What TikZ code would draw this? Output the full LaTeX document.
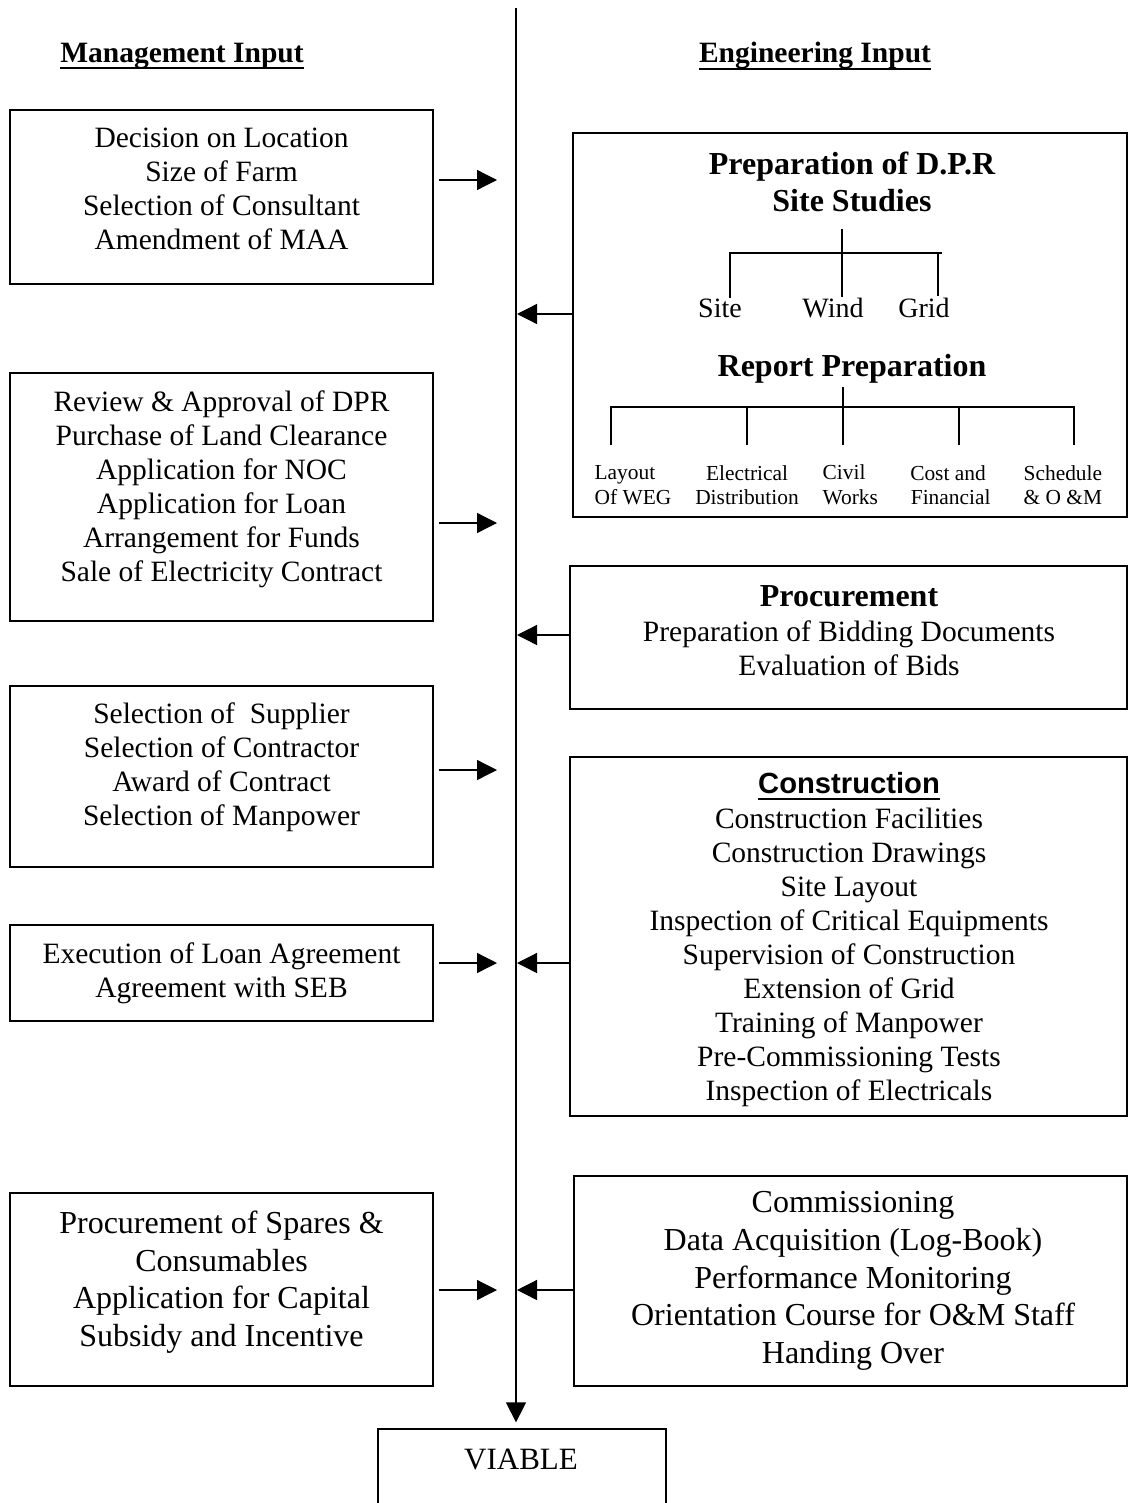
\documentclass[tikz,border=0pt]{standalone}
\usepackage{fontspec}
\setmainfont{Liberation Serif}
\newfontfamily\arialfont{Liberation Sans}
\usetikzlibrary{arrows.meta}
\newcommand{\ulbar}[1]{\setbox0\hbox{#1}\rlap{\rule[-3.5pt]{\wd0}{1.1pt}}\box0}

\begin{document}
\begin{tikzpicture}[x=0.5pt,y=-0.5pt,line width=0.65pt]
    \tikzstyle{every node}=[inner sep=0pt,align=center];
    \tikzstyle{box}=[draw,rectangle,line width=0.65pt];
    \tikzstyle{body}=[font=\fontsize{14.75}{17}\selectfont];
    \tikzstyle{big}=[font=\fontsize{16}{18.8}\selectfont];
    \tikzstyle{title}=[font=\fontsize{14.75}{17}\selectfont\bfseries];
    \tikzstyle{head}=[font=\fontsize{16}{18.5}\selectfont\bfseries];
    \tikzstyle{leaf}=[font=\fontsize{14}{16}\selectfont];
    \tikzstyle{small}=[font=\fontsize{10.7}{12.3}\selectfont];
    \tikzstyle{arr}=[-{Triangle[length=10pt,width=10pt]}];

    \useasboundingbox (0,0) rectangle (1129,1503);

    \node at (182,56) (mgmt) [title] {\ulbar{Management Input}};
    \node at (815,56) (engg) [title] {\ulbar{Engineering Input}};

    % management side
    \node at (221.5,197) (m1) [box,minimum width=211.5pt,minimum height=87pt] {};
    \node at (221.5,189) (m1t) [body] {Decision on Location\\Size of Farm\\Selection of Consultant\\Amendment of MAA};
    \node at (221.5,497) (m2) [box,minimum width=211.5pt,minimum height=124pt] {};
    \node at (221.5,489) (m2t) [body] {Review \& Approval of DPR\\Purchase of Land Clearance\\Application for NOC\\Application for Loan\\Arrangement for Funds\\Sale of Electricity Contract};
    \node at (221.5,776.5) (m3) [box,minimum width=211.5pt,minimum height=90.5pt] {};
    \node at (221.5,767) (m3t) [body] {Selection of\ \ Supplier\\Selection of Contractor\\Award of Contract\\Selection of Manpower};
    \node at (221.5,973) (m4) [box,minimum width=211.5pt,minimum height=48pt] {};
    \node at (221.5,973) (m4t) [body] {Execution of Loan Agreement\\Agreement with SEB};
    \node at (221.5,1289.5) (m5) [box,minimum width=211.5pt,minimum height=96.5pt] {};
    \node at (221.5,1282) (m5t) [big] {Procurement of Spares \&\\Consumables\\Application for Capital\\Subsidy and Incentive};

    % engineering side
    \node at (850,325) (e1) [box,minimum width=277pt,minimum height=192pt] {};
    \node at (852,182) (dpr) [head] {Preparation of D.P.R\\Site Studies};
    \node at (720,308) (site) [leaf] {Site};
    \node at (833,308) (wind) [leaf] {Wind};
    \node at (924,308) (grid) [leaf] {Grid};
    \coordinate (sstem) at (842,229);
    \coordinate (sbar) at (842,253);
    \draw (sstem) -- (842,297);
    \draw (730,298) |- (942,253);
    \draw (938,253) -- (938,296);
    \node at (852,369) (rep) [head] {Report Preparation};
    \coordinate (rstem) at (843,387);
    \draw (rstem) -- (843,445);
    \draw (611,445) |- (1074,407) -- (1074,445);
    \draw (747,407) -- (747,445);
    \draw (959,407) -- (959,445);
    \node at (594,485) (lay) [small,anchor=west,align=left] {Layout\\Of WEG};
    \node at (747,485) (ele) [small] {Electrical\\Distribution};
    \node at (822,485) (civ) [small,anchor=west,align=left] {Civil\\Works};
    \node at (948,485) (cos) [small] {Cost and\\\ Financial};
    \node at (1023,485) (sch) [small,anchor=west,align=left] {Schedule\\\& O \&M};

    \node at (848.5,637.5) (e2) [box,minimum width=278.5pt,minimum height=71.5pt] {};
    \node at (849,596) (proc) [head] {Procurement};
    \node at (849,648) (proct) [body] {Preparation of Bidding Documents\\Evaluation of Bids};

    \node at (848.5,936.5) (e3) [box,minimum width=278.5pt,minimum height=179.5pt] {};
    \node at (849,786) (cons) [font=\fontsize{14.6}{17}\selectfont\arialfont\bfseries] {\ulbar{Construction}};
    \node at (849,957) (const) [body] {Construction Facilities\\Construction Drawings\\Site Layout\\Inspection of Critical Equipments\\Supervision of Construction\\Extension of Grid\\Training of Manpower\\Pre-Commissioning Tests\\Inspection of Electricals};

    \node at (850.5,1281) (e4) [box,minimum width=276.5pt,minimum height=105pt] {};
    \node at (853,1281) (e4t) [big] {Commissioning\\Data Acquisition (Log-Book)\\Performance Monitoring\\Orientation Course for O\&M Staff\\Handing Over};

    \node at (522,1474.5) (viable) [box,minimum width=144pt,minimum height=45.5pt] {};
    \node at (521,1459) (viablet) [font=\fontsize{15.5}{18}\selectfont] {VIABLE};

    % spine and arrows
    \coordinate (top) at (516,8);
    \draw[arr,shorten >=3pt] (top) -- (top |- viable.north);

    \coordinate (m1-in) at (497,180);
    \coordinate (m2-in) at (497,523);
    \coordinate (m3-in) at (497,770);
    \coordinate (m4-in) at (497,963);
    \coordinate (m5-in) at (497,1290);
    \draw[arr,shorten <=2.5pt] (m1.east |- m1-in) -- (m1-in);
    \draw[arr,shorten <=2.5pt] (m2.east |- m2-in) -- (m2-in);
    \draw[arr,shorten <=2.5pt] (m3.east |- m3-in) -- (m3-in);
    \draw[arr,shorten <=2.5pt] (m4.east |- m4-in) -- (m4-in);
    \draw[arr,shorten <=2.5pt] (m5.east |- m5-in) -- (m5-in);

    \coordinate (e1-in) at (517,314);
    \coordinate (e2-in) at (517,635);
    \coordinate (e3-in) at (517,963);
    \coordinate (e4-in) at (517,1290);
    \draw[arr] (e1.west |- e1-in) -- (e1-in);
    \draw[arr] (e2.west |- e2-in) -- (e2-in);
    \draw[arr] (e3.west |- e3-in) -- (e3-in);
    \draw[arr] (e4.west |- e4-in) -- (e4-in);
\end{tikzpicture}
\end{document}
